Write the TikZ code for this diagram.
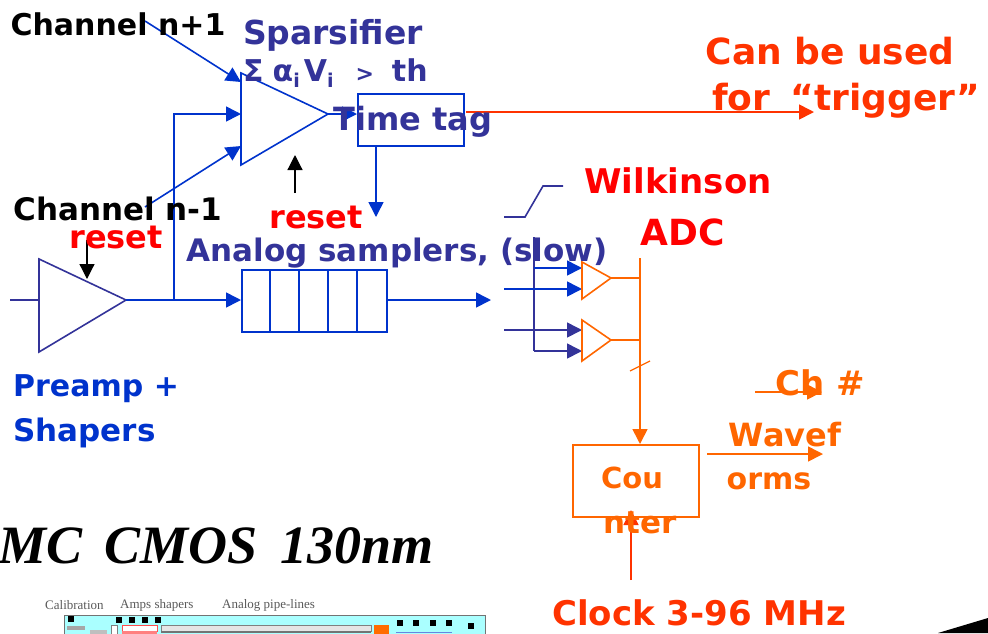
\documentclass[tikz,border=0pt]{standalone}
\usepackage{fontspec}
\setmainfont{DejaVu Sans}
\newfontfamily\titlefont{Liberation Serif}
\usetikzlibrary{arrows.meta}
\definecolor{navy}{HTML}{333399}
\definecolor{wire}{HTML}{0033CC}
\definecolor{amber}{HTML}{FF6600}
\definecolor{vermil}{HTML}{FF3300}
\definecolor{chipc}{HTML}{AAFFFF}
\newcommand{\subi}{\raisebox{-6pt}{\fontsize{19}{20}\selectfont i}}
\newcommand{\lblfs}[1]{\fontsize{#1}{#1}\selectfont\bfseries}
\tikzset{
  x=1pt,y=-1pt,
  tri/.style={-{Triangle[length=15pt,width=15pt]},line width=1.6pt},
  ln/.style={line width=1.6pt},
  lbl/.style={inner sep=0pt,font=\lblfs{#1}},
  chiplbl/.style={inner sep=0pt,font=\titlefont\fontsize{13}{14}\selectfont,text=black!65},
  pad/.style={fill=black,draw=none,minimum size=6pt,inner sep=0pt},
}
\begin{document}
\begin{tikzpicture}
\useasboundingbox (0,0) rectangle (988,633);
% coordinates
\coordinate (preA) at (39,259); \coordinate (preB) at (126,300); \coordinate (preC) at (39,352);
\coordinate (spA) at (241,73); \coordinate (spB) at (328,114); \coordinate (spC) at (241,165);
\coordinate (preIn) at (10,300); \coordinate (preInEnd) at (39,300);
\coordinate (branch) at (174,300); \coordinate (branchTop) at (174,114); \coordinate (spIn) at (241,114);
\coordinate (spUp) at (241,82); \coordinate (spLow) at (241,146);
\coordinate (chA) at (145,21); \coordinate (chB) at (145,207);
\coordinate (sampIn) at (241,300); \coordinate (sampOut) at (386,300); \coordinate (sampEnd) at (491,300);
\coordinate (ttIn) at (357,114); \coordinate (ttDownA) at (376,145); \coordinate (ttDownB) at (376,217);
\coordinate (trigA) at (466,112); \coordinate (trigB) at (814,112);
\coordinate (rsA) at (295,193); \coordinate (rsB) at (295,155);
\coordinate (rpA) at (87,240); \coordinate (rpB) at (87,279);
% chip picture
\fill[chipc] (64,615) rectangle (485,640);
\draw[black!55,line width=1pt] (64,640) -- (64,615) -- (485,615) -- (485,640);
\fill[black!35] (67,626) rectangle (85,630);
\fill[black!25] (90,630) rectangle (107,640);
\draw[black!50,fill=white,line width=.5pt] (111,625) rectangle (117,640);
\draw[red!70,fill=white,line width=.8pt] (122,625) rectangle (157,631);
\fill[red!50] (122,631) rectangle (157,640);
\draw[black!50,fill=white!90!black,line width=.6pt] (161,625) rectangle (371,631);
\fill[black!55] (161,631) rectangle (371,633);
\fill[orange!85!red] (374,625) rectangle (389,640);
\fill[wire!60] (396,632) rectangle (452,633);
\foreach \n/\x/\y in {a/71/619,b/119/620,c/132/620,d/145/620,e/158/620,f/400/623,g/416/623,h/433/623,i/449/623,j/471/626}
  \node[pad] (p\n) at (\x,\y) {};
\node[chiplbl,anchor=west] (calib) at (45,605) {Calibration};
\node[chiplbl,anchor=west] (amps) at (120,605) {Amps shapers};
\node[chiplbl,anchor=west] (pipes) at (222,605) {Analog pipe-lines};
% wedge
\fill[black] (938,633) -- (988,618) -- (988,633) -- cycle;
% preamp & sparsifier
\draw[navy,ln] (preA) -- (preB) -- (preC) -- cycle;
\draw[navy,ln] (preIn) -- (preInEnd);
\draw[wire,ln] (spA) -- (spB) -- (spC) -- cycle;
\draw[wire,tri] (preB) -- (sampIn);
\draw[wire,tri] (branch) -- (branchTop) -- (spIn);
\draw[wire,tri] (chA) -- (spUp);
\draw[wire,tri] (chB) -- (spLow);
\draw[wire,tri] (spB) -- (ttIn);
% time tag box
\node[draw=wire,line width=1.6pt,minimum width=106pt,minimum height=52pt,inner sep=0pt,anchor=north west] (ttbox) at (357,93) {};
\draw[wire,tri] (ttDownA) -- (ttDownB);
\draw[vermil,tri] (trigA) -- (trigB);
% resets
\draw[black,-{Triangle[length=15pt,width=15pt]},line width=1.2pt] (rsA) -- (rsB);
\draw[black,-{Triangle[length=15pt,width=15pt]},line width=1.2pt] (rpA) -- (rpB);
% sampler
\node[draw=wire,line width=1.6pt,minimum width=145pt,minimum height=62pt,inner sep=0pt,anchor=north west] (samp) at (241,269) {};
\foreach \x in {270,299,328,357} \draw[wire,ln] (\x,269) -- (\x,331);
\draw[wire,tri] (sampOut) -- (sampEnd);
% step
\coordinate (s1) at (504,217); \coordinate (s2) at (525,217); \coordinate (s3) at (543,186); \coordinate (s4) at (563,186);
\draw[navy,ln] (s1) -- (s2) -- (s3) -- (s4);
% ADC inputs
\coordinate (busTop) at (534,237); \coordinate (bus1) at (534,268); \coordinate (bus4) at (534,351);
\coordinate (i1) at (582,268); \coordinate (i2) at (582,289); \coordinate (i3) at (582,330); \coordinate (i4) at (582,351);
\coordinate (w2) at (504,289); \coordinate (w3) at (504,330);
\draw[navy,ln] (busTop) -- (bus4);
\draw[wire,tri] (bus1) -- (i1);
\draw[wire,tri] (w2) -- (i2);
\draw[navy,tri] (w3) -- (i3);
\draw[navy,tri] (bus4) -- (i4);
% comparators
\coordinate (c1a) at (582,262); \coordinate (c1b) at (611,278); \coordinate (c1c) at (582,299);
\coordinate (c2a) at (582,320); \coordinate (c2b) at (611,340); \coordinate (c2c) at (582,361);
\coordinate (v1) at (640,278); \coordinate (v2) at (640,340); \coordinate (vTop) at (640,258); \coordinate (vEnd) at (640,444);
\draw[amber,ln] (c1a) -- (c1b) -- (c1c) -- cycle;
\draw[amber,ln] (c2a) -- (c2b) -- (c2c) -- cycle;
\draw[amber,ln] (c1b) -- (v1);
\draw[amber,ln] (c2b) -- (v2);
\draw[amber,tri] (vTop) -- (vEnd);
\coordinate (sl1) at (630,371); \coordinate (sl2) at (650,361);
\draw[amber,line width=1.2pt] (sl1) -- (sl2);
% counter
\node[draw=amber,line width=1.6pt,minimum width=126pt,minimum height=72pt,inner sep=0pt,anchor=north west] (cnt) at (572,444) {};
\coordinate (chnA) at (755,392); \coordinate (chnB) at (822,392);
\coordinate (wfA) at (707,454); \coordinate (wfB) at (823,454);
\coordinate (ckA) at (631,580); \coordinate (ckB) at (631,510);
\draw[amber,tri] (chnA) -- (chnB);
\draw[amber,tri] (wfA) -- (wfB);
\draw[vermil,tri] (ckA) -- (ckB);
% labels
\node[lbl=30,text=black] (t1) at (118,24) {Channel n+1};
\node[lbl=31,text=black] (t2) at (118,209) {Channel n-1};
\node[lbl=33,text=navy] (t3) at (333,35) {Sparsifier};
\node[lbl=30,text=navy,anchor=west] (t4) at (243,73) {Σ\kern9pt α\subi\kern4pt V\subi\kern22pt{\fontsize{22}{22}\selectfont >}\kern18pt th};
\node[lbl=32,text=navy] (t5) at (413,122) {Time tag};
\node[lbl=31,text=navy] (t6) at (397,253) {Analog samplers, (slow)};
\node[lbl=32,text=red] (t7) at (316,217) {reset};
\node[lbl=32,text=red] (t8) at (116,237) {reset};
\node[lbl=30,text=wire,anchor=west] (t9) at (13,389) {Preamp +};
\node[lbl=31,text=wire,anchor=west] (t10) at (13,433) {Shapers};
\node[inner sep=0pt,anchor=base west,font=\titlefont\fontsize{54}{56}\selectfont\bfseries\itshape] (t11) at (-2,563) {MC\, CMOS\, 130nm};
\node[lbl=36,text=vermil] (t12) at (830,51) {Can be used};
\node[lbl=36,text=vermil] (t13) at (846,101) {for \kern8pt “trigger”};
\node[lbl=34,text=red] (t14) at (678,181) {Wilkinson};
\node[lbl=36,text=red] (t15) at (683,232) {ADC};
\node[lbl=34,text=amber] (t16) at (820,383) {Ch \#};
\node[lbl=32,text=amber] (t17) at (785,435) {Wavef};
\node[lbl=30,text=amber] (t18) at (769,481) {orms};
\node[lbl=29,text=amber] (t19) at (632,478) {Cou};
\node[lbl=31,text=amber] (t20) at (640,523) {nter};
\node[lbl=34,text=vermil] (t21) at (699,613) {Clock 3-96 MHz};
\end{tikzpicture}
\end{document}
